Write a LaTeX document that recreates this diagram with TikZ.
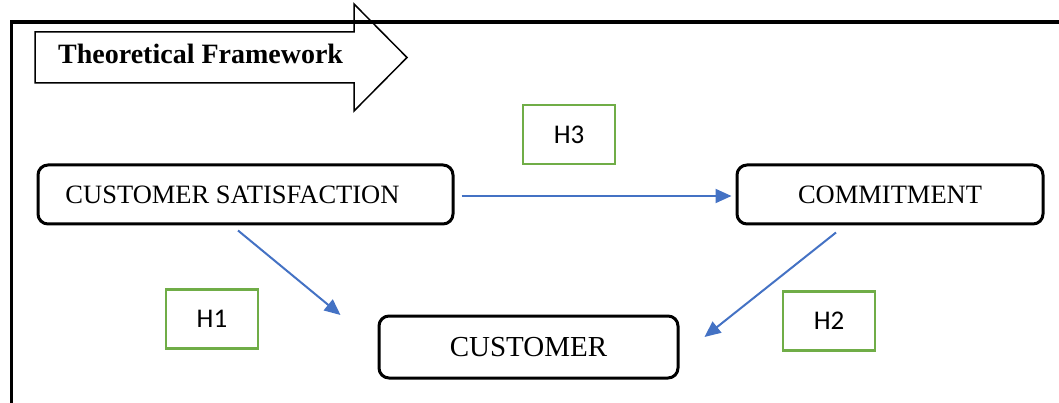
\documentclass[tikz,border=0pt]{standalone}
\usepackage{fontspec}
\setmainfont{Liberation Serif}
\newfontfamily\calib{Carlito}
\usetikzlibrary{arrows.meta}
\definecolor{linkblue}{HTML}{4472C4}
\definecolor{hypgreen}{HTML}{70AD47}
\tikzset{
  construct/.style={draw=black, line width=3pt, rounded corners=10pt, fill=white,
    inner sep=0pt, minimum height=59pt, font=\fontsize{26.5}{30}\selectfont},
  hyp/.style={draw=hypgreen, line width=2.4pt, inner sep=0pt, minimum width=92pt,
    minimum height=59pt, font=\calib\fontsize{27}{30}\selectfont},
  link/.style={draw=linkblue, line width=2pt, -{Triangle[length=16pt,width=14pt]}},
  banner/.style={draw=black, line width=1.5pt, line join=miter}
}
\begin{document}
\begin{tikzpicture}[x=1pt,y=-1pt]
\useasboundingbox (0,0) rectangle (1059,403);
\clip (0,0) rectangle (1059,403);

% banner arrow with the heading
\draw[banner] (35,32) -- (354,32) -- (354,4) -- (407,57.5) -- (354,111) -- (354,83) -- (35,83) -- cycle;
\node[anchor=base west, inner sep=0pt, font=\bfseries\fontsize{28}{32}\selectfont] (title) at (58,64) {Theoretical Framework};

% outer frame
\draw[line width=3.5pt, line join=miter] (11.5,420) -- (11.5,22) -- (1070,22);

% constructs
\node[construct, minimum width=415pt] (sat) at (245.5,194.5) {CUSTOMER SATISFACTION\hspace*{26pt}};
\node[construct, minimum width=306pt] (com) at (890,194.5) {COMMITMENT};
\node[construct, minimum width=299pt, minimum height=62pt, font=\fontsize{29}{32}\selectfont] (cus) at (528.5,347) {CUSTOMER};

% hypotheses
\node[hyp] (h3) at (569,134.5) {H3};
\node[hyp] (h1) at (212,319) {H1};
\node[hyp] (h2) at (829,321) {H2};

% relationships
\draw[link] ([shift={(7,1.5)}]sat.east) -- ([shift={(-4,1.5)}]com.west);
\draw[link] ([shift={(-7.5,5)}]sat.south) -- ([shift={(-37,-32)}]cus.west);
\draw[link] ([shift={(-54,7)}]com.south) -- ([shift={(25,-10)}]cus.east);
\end{tikzpicture}
\end{document}
